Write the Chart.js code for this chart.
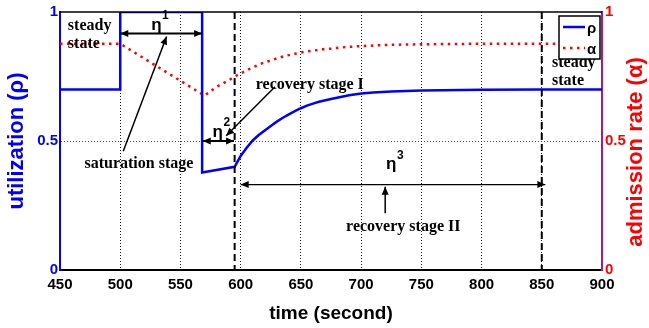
<!DOCTYPE html>
<html>
<head>
<meta charset="utf-8">
<script src="https://cdn.jsdelivr.net/npm/chart.js@4.4.1/dist/chart.umd.min.js"></script>
<style>
  html, body { margin: 0; padding: 0; background: #fff; }
  canvas { display: block; }
</style>
</head>
<body>
<canvas id="myChart" width="649" height="328"></canvas>
<script>
// utilization (rho)
const rhoTime  = [450, 500, 500, 568, 568, 595, 600, 605, 610, 615, 620, 625, 630, 635, 640, 645, 650, 655, 660, 665, 675, 680, 690, 700, 710, 725, 750, 800, 850, 900];
const rhoValue = [0.7, 0.7, 1, 1, 0.378, 0.40, 0.442, 0.474, 0.502, 0.523, 0.541, 0.558, 0.575, 0.59, 0.603, 0.616, 0.627, 0.637, 0.645, 0.652, 0.663, 0.668, 0.677, 0.684, 0.688, 0.692, 0.696, 0.699, 0.7, 0.7];

// admission rate (alpha)
const alphaTime  = [450, 500, 570, 580, 590, 595, 600, 605, 610, 615, 620, 630, 637, 645, 652, 660, 667, 675, 687, 700, 725, 750, 800, 850, 900];
const alphaValue = [0.877, 0.877, 0.676, 0.71, 0.735, 0.75, 0.762, 0.774, 0.785, 0.796, 0.805, 0.82, 0.83, 0.838, 0.845, 0.85, 0.855, 0.858, 0.864, 0.868, 0.873, 0.875, 0.877, 0.877, 0.877];

// tick labels
const timeTicks = [450, 500, 550, 600, 650, 700, 750, 800, 850, 900];
const rateTicks = [0, 0.5, 1];

// stage boundaries (dashed lines)
const stageBounds = [595, 850];

const BLUE = '#0000ff';
const RED = '#ff0000';
const SERIF = 'bold 16px "Liberation Serif", "Times New Roman", serif';
const SANS = '"Liberation Sans", Arial, sans-serif';

function head(ctx, fx, fy, tx, ty) {
  const a = Math.atan2(ty - fy, tx - fx);
  const len = 8, half = 3.5;
  ctx.beginPath();
  ctx.moveTo(tx, ty);
  ctx.lineTo(tx - len * Math.cos(a) + half * Math.sin(a), ty - len * Math.sin(a) - half * Math.cos(a));
  ctx.lineTo(tx - len * Math.cos(a) - half * Math.sin(a), ty - len * Math.sin(a) + half * Math.cos(a));
  ctx.closePath();
  ctx.fill();
}

function arrow(ctx, x1, y1, x2, y2, both, w) {
  ctx.lineWidth = w;
  ctx.beginPath();
  ctx.moveTo(x1, y1);
  ctx.lineTo(x2, y2);
  ctx.stroke();
  head(ctx, x1, y1, x2, y2);
  if (both) head(ctx, x2, y2, x1, y1);
}

function eta(ctx, x, y, sup) {
  ctx.textAlign = 'center';
  ctx.textBaseline = 'middle';
  ctx.font = 'bold 17px ' + SANS;
  ctx.fillText('\u03b7', x, y);
  ctx.font = 'bold 12px ' + SANS;
  ctx.fillText(sup, x + 9, y - 9);
}

const notes = {
  id: 'notes',
  beforeDraw(chart) {
    const ctx = chart.ctx;
    ctx.save();
    ctx.fillStyle = '#fff';
    ctx.fillRect(0, 0, chart.width, chart.height);
    ctx.restore();
  },
  afterDatasetsDraw(chart) {
    const ctx = chart.ctx;
    const xs = chart.scales.x, ys = chart.scales.y;
    const X = v => xs.getPixelForValue(v);
    const Y = v => ys.getPixelForValue(v);
    const area = chart.chartArea;
    ctx.save();

    // top frame line
    ctx.strokeStyle = '#000';
    ctx.lineWidth = 1.5;
    ctx.beginPath();
    ctx.moveTo(area.left, area.top);
    ctx.lineTo(area.right, area.top);
    ctx.stroke();

    // stage boundaries
    ctx.lineWidth = 2;
    ctx.setLineDash([7, 4]);
    stageBounds.forEach(t => {
      ctx.beginPath();
      ctx.moveTo(X(t), area.top);
      ctx.lineTo(X(t), area.bottom);
      ctx.stroke();
    });
    ctx.setLineDash([]);

    ctx.fillStyle = '#000';
    ctx.strokeStyle = '#000';

    // eta 1
    arrow(ctx, X(500), Y(0.917), X(568), Y(0.917), true, 2);
    eta(ctx, X(530), Y(0.95), '1');
    // eta 2
    arrow(ctx, X(568.5), Y(0.5), X(594.5), Y(0.5), true, 2);
    eta(ctx, X(581), Y(0.535), '2');
    // eta 3
    arrow(ctx, X(600), Y(0.331), X(853), Y(0.331), true, 1.2);
    eta(ctx, X(725), Y(0.41), '3');

    // pointer arrows
    arrow(ctx, X(502.5), Y(0.46), X(538.5), Y(0.905), false, 1.5);
    arrow(ctx, X(628.5), Y(0.71), X(588), Y(0.52), false, 1.5);
    arrow(ctx, X(720), Y(0.22), X(720), Y(0.323), false, 1.5);

    // stage texts
    ctx.font = SERIF;
    ctx.textBaseline = 'middle';
    ctx.textAlign = 'left';
    ctx.fillText('steady', X(456.5), Y(0.946));
    ctx.fillText('state', X(456.5), Y(0.877));
    ctx.fillText('recovery stage I', X(612.5), Y(0.719));
    ctx.fillText('steady', X(858.5), Y(0.804));
    ctx.fillText('state', X(858.5), Y(0.735));
    ctx.textAlign = 'center';
    ctx.fillText('saturation stage', X(515.5), Y(0.41));
    ctx.fillText('recovery stage II', X(735), Y(0.169));

    // legend
    const lx = area.right - 43, ly = area.top + 4, lw = 41, lh = 43;
    ctx.fillStyle = '#fff';
    ctx.fillRect(lx, ly, lw, lh);
    ctx.strokeStyle = '#000';
    ctx.lineWidth = 1.5;
    ctx.strokeRect(lx, ly, lw, lh);
    chart.data.datasets.forEach((ds, i) => {
      const yy = ly + 11 + i * 21;
      ctx.strokeStyle = ds.borderColor;
      ctx.lineWidth = ds.borderWidth;
      ctx.setLineDash(ds.borderDash || []);
      ctx.beginPath();
      ctx.moveTo(lx + 4, yy);
      ctx.lineTo(lx + 26, yy);
      ctx.stroke();
      ctx.setLineDash([]);
      ctx.fillStyle = '#000';
      ctx.font = 'bold 15px ' + SANS;
      ctx.textAlign = 'left';
      ctx.fillText(ds.label, lx + 28, yy + 2);
    });

    // right axis title
    ctx.fillStyle = RED;
    ctx.font = 'bold 22px ' + SANS;
    ctx.textAlign = 'center';
    ctx.textBaseline = 'middle';
    ctx.translate(area.right + 34, (area.top + area.bottom) / 2 + 11);
    ctx.rotate(-Math.PI / 2);
    ctx.fillText('admission rate (\u03b1)', 0, 0);
    ctx.restore();
  }
};

const ctx = document.getElementById('myChart').getContext('2d');
const graph = new Chart(ctx, {
  type: 'line',
  data: {
    datasets: [{
      label: '\u03c1',
      data: rhoTime.map((t, i) => ({ x: t, y: rhoValue[i] })),
      borderColor: BLUE,
      borderWidth: 2.5,
      pointRadius: 0,
      yAxisID: 'y'
    }, {
      label: '\u03b1',
      data: alphaTime.map((t, i) => ({ x: t, y: alphaValue[i] })),
      borderColor: RED,
      borderWidth: 2.5,
      borderDash: [2.5, 4.5],
      pointRadius: 0,
      yAxisID: 'y2'
    }]
  },
  options: {
    responsive: false,
    animation: false,
    devicePixelRatio: 1,
    layout: { padding: { top: 10, left: 0, right: 0, bottom: 0 } },
    plugins: { legend: { display: false }, tooltip: { enabled: false } },
    scales: {
      x: {
        type: 'linear',
        min: 450,
        max: 900,
        afterBuildTicks: s => { s.ticks = timeTicks.map(v => ({ value: v })); },
        afterFit: s => { s.height = 58; },
        grid: { color: '#000', lineWidth: 0.9, drawTicks: false },
        border: { color: '#000', width: 2, dash: [1, 2] },
        ticks: { color: '#000', padding: 6, font: { family: SANS, size: 15, weight: 'bold' } },
        title: {
          display: true,
          text: 'time (second)',
          color: '#000',
          padding: { top: 0, bottom: 3 },
          font: { family: SANS, size: 19, weight: 'bold' }
        }
      },
      y: {
        position: 'left',
        min: 0,
        max: 1,
        afterBuildTicks: s => { s.ticks = rateTicks.map(v => ({ value: v })); },
        afterFit: s => { s.width = 60; },
        grid: {
          color: c => (c.tick && c.tick.value === 0.5 ? BLUE : 'rgba(0,0,0,0)'),
          lineWidth: 0.8,
          drawTicks: false
        },
        border: { color: BLUE, width: 2, dash: [1, 2] },
        ticks: { color: BLUE, padding: 2, callback: v => String(v), font: { family: SANS, size: 15, weight: 'bold' } },
        title: {
          display: true,
          text: 'utilization (\u03c1)',
          color: BLUE,
          padding: { top: 4, bottom: 0 },
          font: { family: SANS, size: 22, weight: 'bold' }
        }
      },
      y2: {
        position: 'right',
        min: 0,
        max: 1,
        afterBuildTicks: s => { s.ticks = rateTicks.map(v => ({ value: v })); },
        afterFit: s => { s.width = 47; },
        grid: { display: false, drawTicks: false },
        border: { color: '#b0158a', width: 2 },
        ticks: { color: RED, padding: 3, callback: v => String(v), font: { family: SANS, size: 15, weight: 'bold' } }
      }
    }
  },
  plugins: [notes]
});
</script>
</body>
</html>
